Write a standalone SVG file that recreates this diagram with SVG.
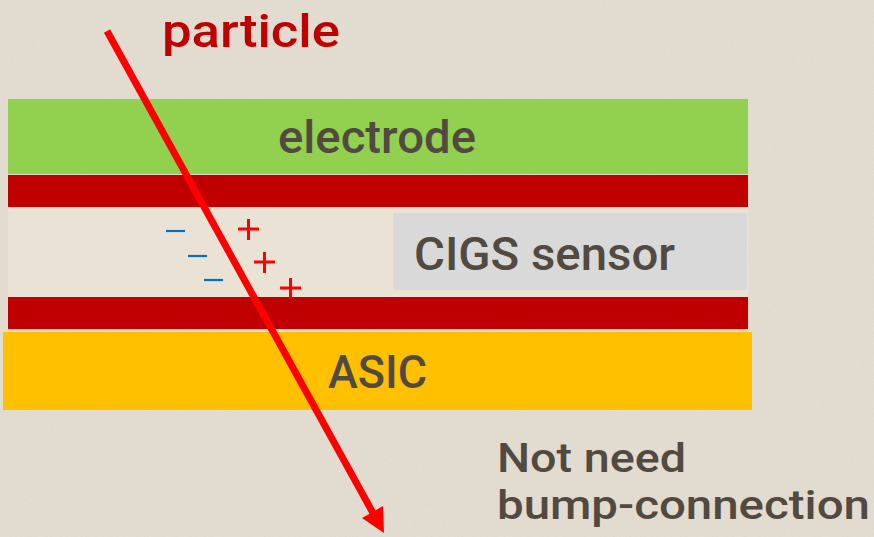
<svg xmlns="http://www.w3.org/2000/svg" width="874" height="537" viewBox="0 0 874 537">
  <style>
    .lbl { font-family: Roboto, "Liberation Sans", sans-serif; font-weight: 500; font-size: 46px; fill: #524a41; }
    .small { font-size: 41px; }
    .red { fill: #c00000; }
    .minus { stroke: #0070c0; stroke-width: 2.2; }
    .plus { stroke: #ff0000; stroke-width: 3; fill: none; }
  </style>
  <defs>
    <filter id="tex" x="0" y="0" width="100%" height="100%">
      <feTurbulence type="fractalNoise" baseFrequency="0.9" numOctaves="2" seed="3" result="n"/>
      <feColorMatrix type="matrix" values="0 0 0 0 0.6  0 0 0 0 0.56  0 0 0 0 0.5  0 0 0 -1.4 0.75"/>
    </filter>
  </defs>
  <g id="background">
    <rect width="874" height="537" fill="#e3dcd1"/>
    <rect width="874" height="537" filter="url(#tex)" opacity="0.35"/>
  </g>
  <g id="electrode">
    <rect x="8" y="99" width="740" height="75" fill="#92d050"/>
    <text class="lbl" x="278" y="153" textLength="198" lengthAdjust="spacingAndGlyphs">electrode</text>
  </g>
  <g id="contact-top">
    <rect class="red" x="8" y="175" width="740" height="32"/>
  </g>
  <g id="sensor-layer">
    <rect x="8" y="207" width="740" height="90" fill="#eae3d5"/>
  </g>
  <g id="cigs-sensor">
    <rect x="393" y="213" width="354" height="77" fill="#d9d9d9"/>
    <text class="lbl" x="414" y="270" textLength="261" lengthAdjust="spacingAndGlyphs">CIGS sensor</text>
  </g>
  <g id="contact-bottom">
    <rect class="red" x="8" y="297" width="740" height="32"/>
  </g>
  <g id="asic">
    <rect x="3" y="332" width="749" height="78" fill="#ffc000"/>
    <text class="lbl" x="328" y="388" textLength="99" lengthAdjust="spacingAndGlyphs">ASIC</text>
  </g>
  <g id="charges">
    <line class="minus" x1="166" y1="231" x2="185" y2="231"/>
    <line class="minus" x1="188" y1="256" x2="207" y2="256"/>
    <line class="minus" x1="204" y1="280" x2="223" y2="280"/>
    <path class="plus" d="M238,229 h21 M248.5,219 v21"/>
    <path class="plus" d="M254,262 h21 M264.5,252 v21"/>
    <path class="plus" d="M280,288 h21 M290.5,278 v21"/>
  </g>
  <g id="connectors">
    <line x1="107" y1="31" x2="373" y2="513" stroke="#ff0000" stroke-width="7"/>
    <path d="M384,533 L362,518 L383,506 z" fill="#ff0000"/>
  </g>
  <g id="labels">
    <text class="lbl" x="162" y="47" style="fill:#c00000" textLength="178" lengthAdjust="spacingAndGlyphs">particle</text>
    <text class="lbl small" x="497" y="472" textLength="189" lengthAdjust="spacingAndGlyphs">Not need</text>
    <text class="lbl small" x="497" y="519" textLength="373" lengthAdjust="spacingAndGlyphs">bump-connection</text>
  </g>
</svg>
